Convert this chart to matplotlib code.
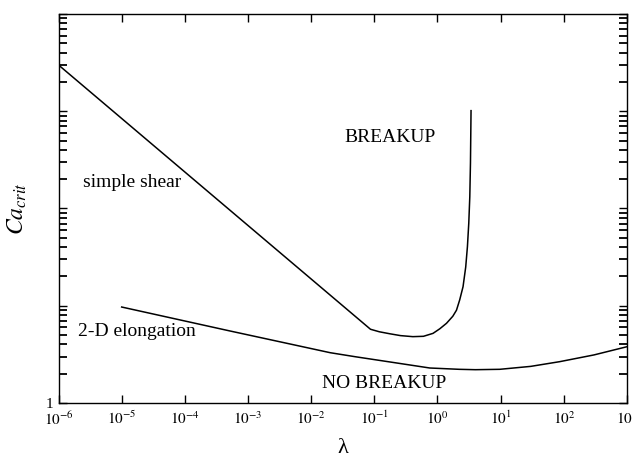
import numpy as np
import matplotlib.pyplot as plt
from matplotlib.ticker import LogLocator, FixedLocator, FuncFormatter, NullLocator

plt.rcParams['font.family'] = ['Liberation Serif', 'DejaVu Serif']
plt.rcParams['mathtext.fontset'] = 'stix'

# critical capillary number
shear_lam = [1e-6, 0.087, 0.12, 0.176, 0.26, 0.407, 0.6, 0.85, 1.09, 1.39, 1.75,
             2.0, 2.25, 2.54, 2.8, 2.98, 3.13, 3.25, 3.33, 3.40]
shear_ca = [2990, 5.73, 5.4, 5.15, 4.93, 4.81, 4.85, 5.2, 5.8, 6.6, 7.8,
            9.0, 11.5, 15.7, 25, 40.5, 70.5, 132, 294, 1014]

elong_lam = [1e-5, 5.2e-4, 5e-3, 2.0e-2, 0.05, 0.2, 0.755, 2.2, 4.0, 9.7, 30, 86, 300, 1000]
elong_ca = [9.7, 5.5, 4.0, 3.29, 2.99, 2.61, 2.29, 2.22, 2.20, 2.22, 2.38, 2.66, 3.12, 3.79]

x_decades = list(range(-6, 4))

fig = plt.figure(figsize=(6.32, 4.63), dpi=100)
ax = fig.add_axes([0.0926, 0.1296, 0.8994, 0.8402])

ax.plot(shear_lam, shear_ca, color='black', lw=1.1)
ax.plot(elong_lam, elong_ca, color='black', lw=1.1)

ax.set_xscale('log')
ax.set_yscale('log')
ax.set_xlim(1e-6, 1e3)
ax.set_ylim(1, 1e4)

ax.xaxis.set_major_locator(FixedLocator([10.0 ** d for d in x_decades]))
ax.xaxis.set_minor_locator(NullLocator())
ax.xaxis.set_major_formatter(FuncFormatter(lambda v, p: r'$10^{%d}$' % round(np.log10(v))))

ax.yaxis.set_major_locator(LogLocator(base=10, numticks=10))
ax.yaxis.set_minor_locator(LogLocator(base=10, subs=np.arange(2, 10), numticks=10))
ax.yaxis.set_major_formatter(FuncFormatter(lambda v, p: '1' if abs(v - 1) < 1e-9 else ''))

ax.tick_params(which='both', direction='in', top=True, right=True, labelsize=11, width=1)
ax.tick_params(which='major', length=6)
ax.tick_params(which='minor', length=6, width=1.3)
ax.tick_params(axis='x', pad=5)
for s in ax.spines.values():
    s.set_linewidth(1)

ax.text(0.176, 543, 'BREAKUP', ha='center', va='center', fontsize=14)
ax.text(0.141, 1.57, 'NO BREAKUP', ha='center', va='center', fontsize=14)
ax.text(2.44e-6, 183, 'simple shear', ha='left', va='center', fontsize=14)
ax.text(2.04e-6, 5.4, '2-D elongation', ha='left', va='center', fontsize=14)

ax.set_xlabel('λ', fontsize=16, labelpad=8)
ax.set_ylabel(r'$Ca_{crit}$', fontsize=17, labelpad=12)

fig.savefig('out.png', dpi=100)
